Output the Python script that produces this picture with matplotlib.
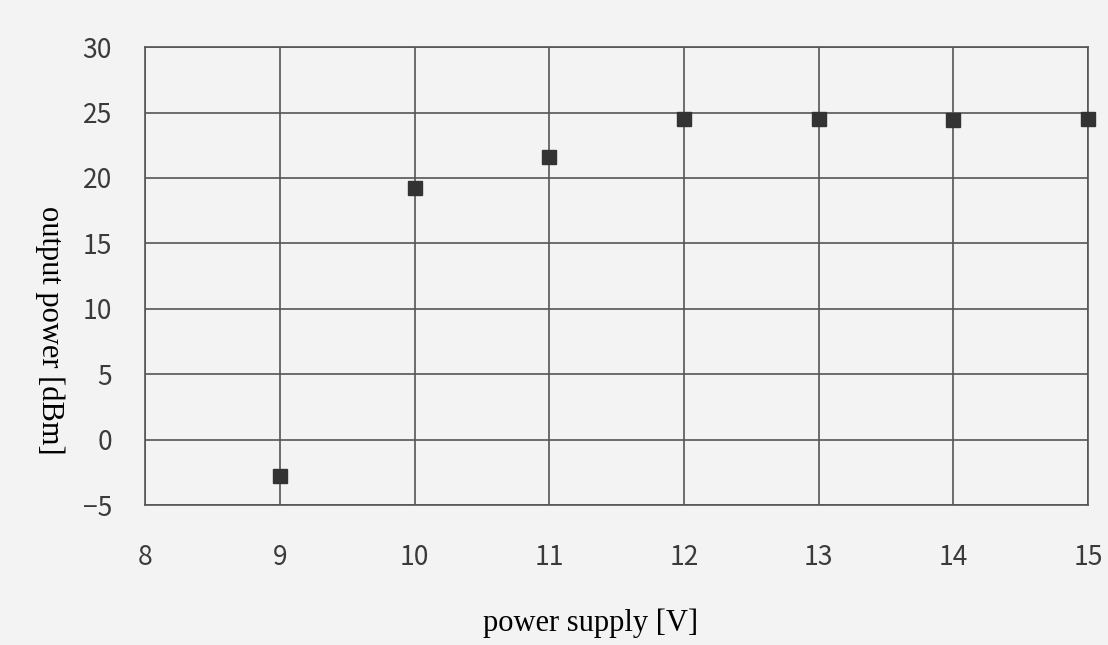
import matplotlib.pyplot as plt

voltage = [9, 10, 11, 12, 13, 14, 15]
power_dbm = [-2.8, 19.2, 21.6, 24.5, 24.5, 24.4, 24.5]

x_ticks = [8, 9, 10, 11, 12, 13, 14, 15]
y_ticks = [-5, 0, 5, 10, 15, 20, 25, 30]

fig = plt.figure(figsize=(11.08, 6.45), dpi=100)
fig.patch.set_facecolor("#f3f3f3")
ax = fig.add_axes([0.131, 0.217, 0.851, 0.710])
ax.set_facecolor("#f3f3f3")

ax.plot(voltage, power_dbm, linestyle="none", marker="s", markersize=10,
        color="#333333", clip_on=False, zorder=3)

ax.set_xlim(8, 15)
ax.set_ylim(-5, 30)
ax.set_xticks(x_ticks)
ax.set_yticks(y_ticks)
ax.set_yticklabels([str(v).replace("-", "\u2212") for v in y_ticks])
ax.grid(True, color="#555555", linewidth=1.2)
ax.set_axisbelow(True)
for s in ax.spines.values():
    s.set_color("#555555")
    s.set_linewidth(1.2)
ax.tick_params(length=0, labelsize=19, colors="#3a3a3a")
ax.tick_params(axis="x", pad=28)
ax.tick_params(axis="y", pad=24)
for lbl in ax.get_xticklabels() + ax.get_yticklabels():
    lbl.set_fontfamily(["Noto Sans CJK JP", "DejaVu Sans"])

ax.set_xlabel("power supply [V]", fontsize=22, family="Liberation Serif", labelpad=26)
ax.xaxis.set_label_coords(0.472, -0.225)
fig.text(0.045, 0.488, "output power [dBm]", rotation=270, fontsize=22,
         family="Liberation Serif", ha="center", va="center")

plt.savefig("out.png", dpi=100, facecolor=fig.get_facecolor())
